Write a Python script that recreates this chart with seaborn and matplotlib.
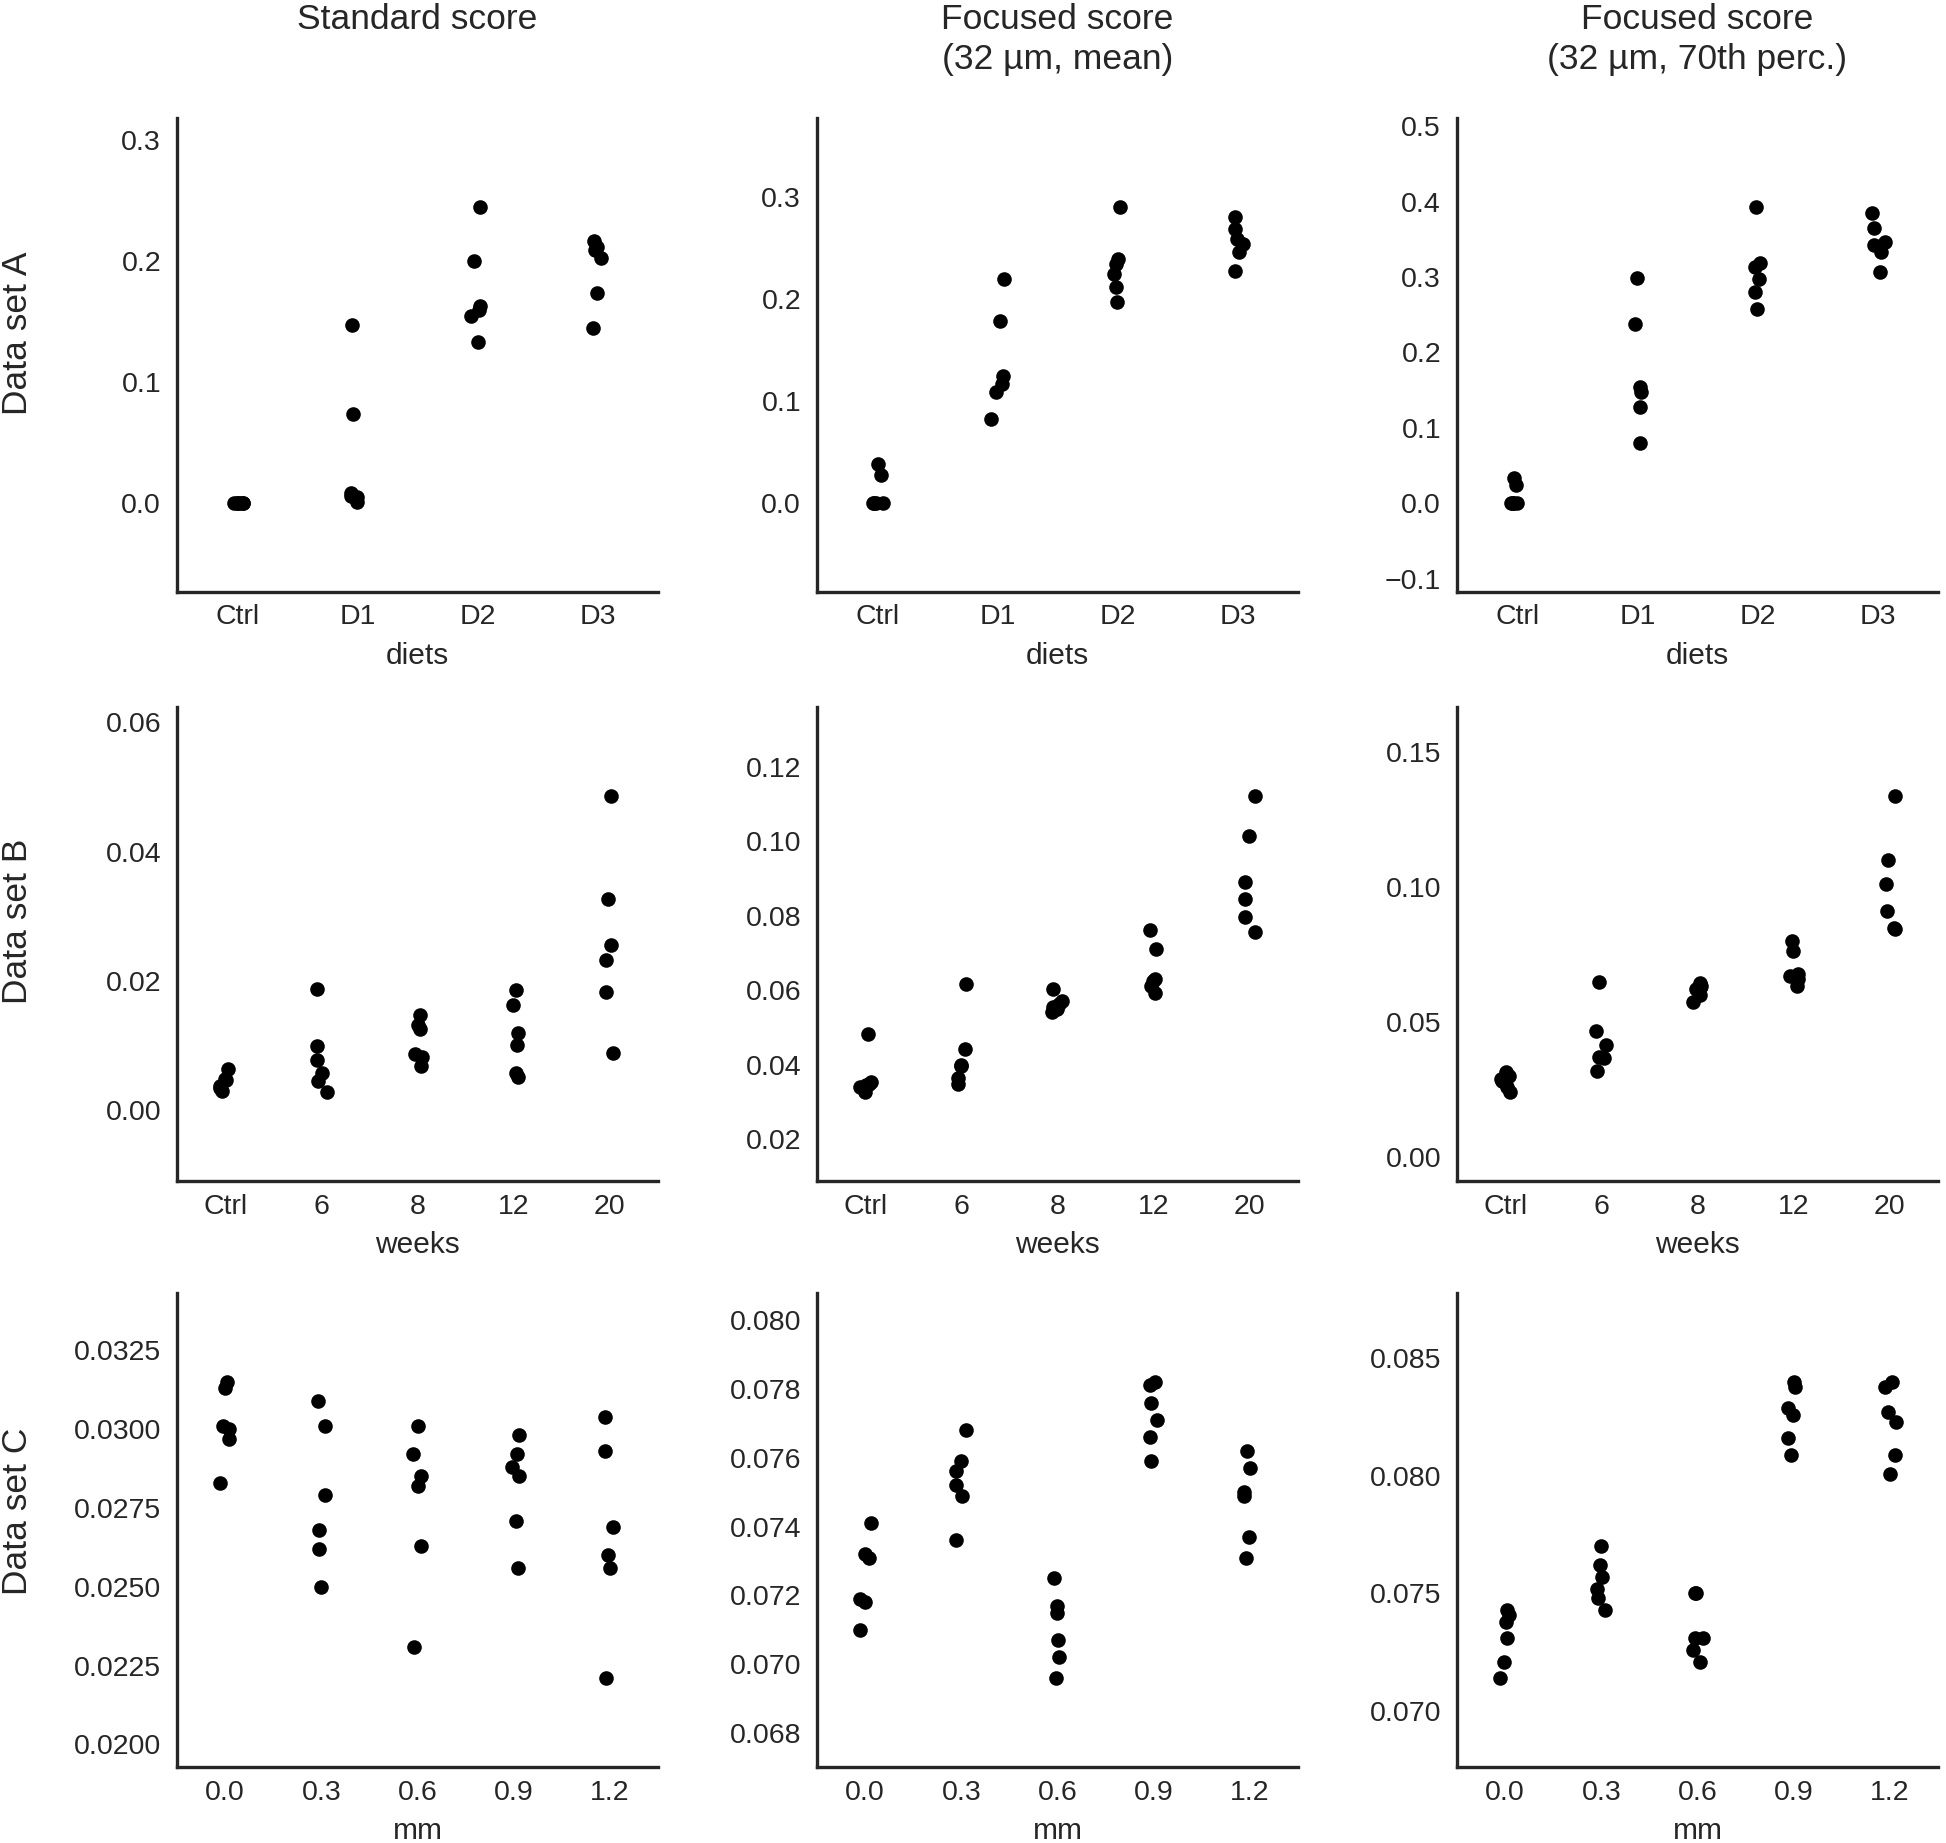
import numpy as np
import pandas as pd
import matplotlib
matplotlib.use("Agg")
import matplotlib.pyplot as plt
from matplotlib.ticker import MultipleLocator, ScalarFormatter
import seaborn as sns

# ---------------- data ----------------
diets = ["Ctrl", "D1", "D2", "D3"]
weeks = ["Ctrl", "6", "8", "12", "20"]
mm = ["0.0", "0.3", "0.6", "0.9", "1.2"]

col_titles = ["Standard score", "Focused score\n(32 µm, mean)", "Focused score\n(32 µm, 70th perc.)"]
row_titles = ["Data set A", "Data set B", "Data set C"]
x_labels = ["diets", "weeks", "mm"]

# Data set A (groups: Ctrl, D1, D2, D3)
a_standard = [
    [0.0, 0.0, 0.0, 0.0, 0.0, 0.0],
    [0.147, 0.074, 0.008, 0.005, 0.006, 0.001],
    [0.245, 0.200, 0.163, 0.160, 0.155, 0.133],
    [0.217, 0.212, 0.209, 0.203, 0.174, 0.145],
]
a_mean = [
    [0.038, 0.028, 0.0, 0.0, 0.0, 0.0],
    [0.219, 0.178, 0.124, 0.117, 0.109, 0.082],
    [0.290, 0.239, 0.234, 0.224, 0.212, 0.197],
    [0.280, 0.268, 0.259, 0.254, 0.246, 0.227],
]
a_p70 = [
    [0.033, 0.024, 0.0, 0.0, 0.0, 0.0],
    [0.299, 0.238, 0.154, 0.147, 0.127, 0.080],
    [0.393, 0.319, 0.313, 0.297, 0.280, 0.257],
    [0.385, 0.365, 0.347, 0.342, 0.333, 0.307],
]

# Data set B (groups: Ctrl, 6, 8, 12, 20 weeks)
b_standard = [
    [0.0063, 0.0049, 0.0046, 0.0038, 0.0035, 0.0030],
    [0.0187, 0.0099, 0.0078, 0.0057, 0.0045, 0.0028],
    [0.0148, 0.0132, 0.0126, 0.0087, 0.0082, 0.0068],
    [0.0186, 0.0162, 0.0119, 0.0101, 0.0058, 0.0052],
    [0.0486, 0.0326, 0.0255, 0.0232, 0.0183, 0.0088],
]
b_mean = [
    [0.0482, 0.0354, 0.0350, 0.0345, 0.0340, 0.0327],
    [0.0616, 0.0442, 0.0400, 0.0397, 0.0365, 0.0349],
    [0.0604, 0.0571, 0.0563, 0.0555, 0.0550, 0.0543],
    [0.0762, 0.0712, 0.0631, 0.0626, 0.0611, 0.0593],
    [0.1122, 0.1014, 0.0891, 0.0846, 0.0797, 0.0757],
]
b_p70 = [
    [0.0315, 0.0299, 0.0289, 0.0280, 0.0260, 0.0240],
    [0.0650, 0.0468, 0.0413, 0.0371, 0.0368, 0.0318],
    [0.0646, 0.0632, 0.0625, 0.0621, 0.0601, 0.0574],
    [0.0801, 0.0764, 0.0676, 0.0671, 0.0660, 0.0632],
    [0.1338, 0.1101, 0.1011, 0.0913, 0.0849, 0.0846],
]

# Data set C (groups: 0.0 ... 1.2 mm)
c_standard = [
    [0.0315, 0.0313, 0.0301, 0.0300, 0.0297, 0.0283],
    [0.0309, 0.0301, 0.0279, 0.0268, 0.0262, 0.0250],
    [0.0301, 0.0292, 0.0285, 0.0282, 0.0263, 0.0231],
    [0.0298, 0.0292, 0.0288, 0.0285, 0.0271, 0.0256],
    [0.0304, 0.0293, 0.0269, 0.0260, 0.0256, 0.0221],
]
c_mean = [
    [0.0741, 0.0732, 0.0731, 0.0719, 0.0718, 0.0710],
    [0.0768, 0.0759, 0.0756, 0.0752, 0.0749, 0.0736],
    [0.0725, 0.0717, 0.0715, 0.0707, 0.0702, 0.0696],
    [0.0782, 0.0781, 0.0776, 0.0771, 0.0766, 0.0759],
    [0.0762, 0.0757, 0.0750, 0.0749, 0.0737, 0.0731],
]
c_p70 = [
    [0.0743, 0.0741, 0.0738, 0.0731, 0.0721, 0.0714],
    [0.0770, 0.0762, 0.0757, 0.0752, 0.0748, 0.0743],
    [0.0750, 0.0750, 0.0731, 0.0731, 0.0726, 0.0721],
    [0.0840, 0.0838, 0.0829, 0.0826, 0.0816, 0.0809],
    [0.0840, 0.0838, 0.0827, 0.0823, 0.0809, 0.0801],
]

panels = [
    [(a_standard, diets), (a_mean, diets), (a_p70, diets)],
    [(b_standard, weeks), (b_mean, weeks), (b_p70, weeks)],
    [(c_standard, mm), (c_mean, mm), (c_p70, mm)],
]
tick_steps = [
    [0.1, 0.1, 0.1],
    [0.02, 0.02, 0.05],
    [0.0025, 0.002, 0.005],
]

# ---------------- style ----------------
sns.set_style("white")
plt.rcParams["font.family"] = ["Liberation Sans", "DejaVu Sans"]
plt.rcParams["text.color"] = ".15"
plt.rcParams["axes.labelcolor"] = ".15"
plt.rcParams["xtick.color"] = ".15"
plt.rcParams["ytick.color"] = ".15"

W, H = 1946, 1843
DPI = 100
fig = plt.figure(figsize=(W / DPI, H / DPI), dpi=DPI)
fig.patch.set_facecolor("white")

lefts = [177, 817, 1457]
tops = [118, 707, 1293]
aw, ah = 481, 474

np.random.seed(3)
for r in range(3):
    for c in range(3):
        vals, cats = panels[r][c]
        rows = []
        for cat, vs in zip(cats, vals):
            for v in vs:
                rows.append((cat, v))
        df = pd.DataFrame(rows, columns=["group", "value"])
        ax = fig.add_axes([lefts[c] / W, 1 - (tops[r] + ah) / H, aw / W, ah / H])
        sns.stripplot(data=df, x="group", y="value", order=cats, color="black",
                      size=10.5, jitter=0.06, linewidth=0, ax=ax)
        vmin, vmax = df["value"].min(), df["value"].max()
        rng = vmax - vmin
        ax.set_ylim(vmin - 0.3 * rng, vmax + 0.3 * rng)
        ax.set_xlim(-0.5, len(cats) - 0.5)
        ax.yaxis.set_major_locator(MultipleLocator(tick_steps[r][c]))
        fmt = ScalarFormatter(useOffset=False)
        ax.yaxis.set_major_formatter(fmt)
        ax.set_ylabel("")
        ax.set_xlabel(x_labels[r], fontsize=21.5, labelpad=8)
        ax.tick_params(axis="both", length=0, labelsize=20.5)
        ax.tick_params(axis="y", pad=11.5)
        ax.tick_params(axis="x", pad=9)
        sns.despine(ax=ax)
        for side in ("left", "bottom"):
            ax.spines[side].set_linewidth(2.4)
            ax.spines[side].set_color(".15")

# column titles
for c in range(3):
    xc = (lefts[c] + aw / 2) / W
    fig.text(xc, 1 - 3 / H, col_titles[c], ha="center", va="top",
             fontsize=25.5, linespacing=1.25)

# row labels
row_centers = [333, 921, 1511]
for r in range(3):
    fig.text(18 / W, 1 - row_centers[r] / H, row_titles[r], rotation=90,
             ha="center", va="center", fontsize=25.5)

fig.savefig("out.png", dpi=DPI, facecolor="white")
